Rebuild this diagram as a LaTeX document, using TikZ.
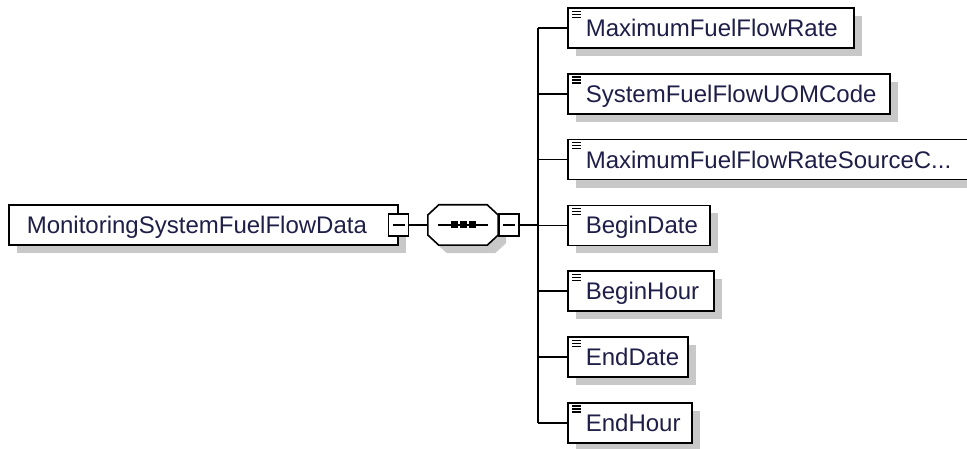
\documentclass[tikz,border=0pt]{standalone}
\usepackage{fontspec}
\setmainfont{Liberation Sans}
\usetikzlibrary{shadows,calc}
\definecolor{elemtext}{RGB}{30,30,72}
\definecolor{shadowgray}{RGB}{200,200,200}

\begin{document}
\begin{tikzpicture}[x=1pt,y=-1pt,
    elem/.style={draw=black,line width=1.6pt,fill=white,minimum height=40pt,inner ysep=0pt,inner xsep=18pt,
        font=\fontsize{24}{28}\selectfont,text=elemtext,text height=17pt,text depth=0pt,align=left,
        drop shadow={shadow xshift=8pt,shadow yshift=-8pt,fill=shadowgray,opacity=1}},
    minus/.style={draw=black,line width=1.4pt,fill=white,minimum width=20pt,minimum height=22pt,inner sep=0pt,
        path picture={\draw[line width=1.2pt] ($(path picture bounding box.west)+(4,0)$) -- ($(path picture bounding box.east)+(-4,0)$);}},
    link/.style={line width=1.6pt}]
    \useasboundingbox (0,0) rectangle (967,449);
    \clip (0,0) rectangle (967,449);

    % parent element and sequence
    \node[elem,text width=353pt,anchor=west] (main) at (8,225) {\mbox{MonitoringSystemFuelFlowData}};
    \node[minus] (mainminus) at (main.east) {};
    \node[minimum width=70pt,minimum height=40pt,inner sep=0pt] (seq) at (463,225) {};
    \draw[line width=1.6pt,fill=white,drop shadow={shadow xshift=8pt,shadow yshift=-8pt,fill=shadowgray,opacity=1}]
        ($(seq.west)+(0,-10)$) -- ($(seq.north west)+(11,0)$) -- ($(seq.north east)+(-11,0)$) -- ($(seq.east)+(0,-10)$)
        -- ($(seq.east)+(0,10)$) -- ($(seq.south east)+(-11,0)$) -- ($(seq.south west)+(11,0)$) -- ($(seq.west)+(0,10)$) -- cycle;
    \draw[link] ($(seq.center)+(-25,0)$) -- ($(seq.center)+(25,0)$);
    \foreach \dx in {-9,0,9}
        \fill ($(seq.center)+(\dx-3.5,-3.5)$) rectangle +(7,7);
    \node[minus,anchor=west] (seqminus) at (seq.east) {};
    \draw[link] (mainminus.east) -- (seq.west);
    \coordinate (bus) at (538,225);
    \draw[link] (seqminus.east) -- (bus);

    % child elements
    \foreach \nm/\tw/\txt [count=\i from 0] in {
        maxrate/250/MaximumFuelFlowRate,
        uomcode/286/SystemFuelFlowUOMCode,
        sourcecode/390/{MaximumFuelFlowRateSourceC.{}.{}.},
        begindate/106/BeginDate,
        beginhour/110/BeginHour,
        enddate/84/EndDate,
        endhour/88/EndHour} {
        \node[elem,text width=\tw pt,anchor=west] (\nm) at (567,28+65.8*\i) {\mbox{\txt}};
        \draw[link] (\nm.west -| bus) -- (\nm.west);
        \foreach \k in {0,1,2}
            \draw[line width=1.3pt] ($(\nm.north west)+(5,4+3*\k)$) -- +(9,0);
    }
    \draw[link] (maxrate.west -| bus) -- (endhour.west -| bus);
\end{tikzpicture}
\end{document}
